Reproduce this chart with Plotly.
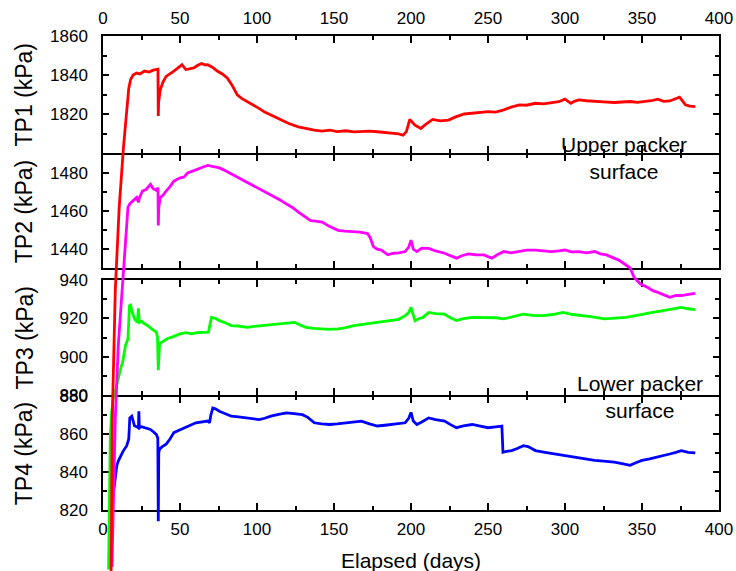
import plotly.graph_objects as go

# ---------------- data (elapsed days, pore pressure in kPa) ----------------
days_tp1 = [5.2, 6.0, 8.0, 10.5, 13.3, 15.4, 16.7, 17.9, 19.5, 21.8, 24, 26.9, 30, 32.5, 34.6,
            35.7, 35.9, 36.1, 37.2, 39, 41, 43.5, 46, 48.5, 51.3, 53.8, 56.5, 59, 61.5, 64.1,
            66, 68, 71, 74.4, 77.5, 80.8, 84, 87.2, 90, 93.6, 97, 101.3, 105, 109, 113, 116.7,
            121, 126.9, 132, 137.2, 142, 147.4, 152, 157.7, 163, 167.9, 173, 178.2, 183, 188.5,
            192, 194.9, 197, 199.2, 202.6, 206.4, 210, 214.1, 219, 224.4, 229, 234.6, 242, 250,
            255, 260.3, 265, 270.5, 275, 280.8, 286, 291, 296, 300, 303.8, 306, 309, 314, 319.2,
            325, 332, 337, 342.3, 347, 352.6, 356, 360.3, 364, 368, 371, 374.4, 376.5, 378.2,
            381, 384.6]
tp1 = [1580, 1663, 1730, 1772, 1803, 1824, 1833, 1837.6, 1840, 1841, 1840.5, 1842, 1841.5, 1842.5,
       1842.8, 1843, 1819, 1826, 1832.4, 1836.5, 1839.3, 1840.5, 1842, 1843.5, 1845.3, 1842.8,
       1843.2, 1843.6, 1845, 1845.9, 1845.2, 1845.3, 1844, 1841.9, 1840.5, 1838.4, 1834.5, 1829.8,
       1828, 1826.4, 1825, 1822.9, 1821, 1819.5, 1818, 1816.9, 1815, 1813.4, 1812.5, 1811.7,
       1811.2, 1811.7, 1811, 1811.4, 1810.8, 1810.9, 1811.2, 1810.9, 1810.5, 1810.3, 1809.8,
       1809.1, 1811, 1817.2, 1814.3, 1812.6, 1815, 1817.2, 1816.5, 1816.9, 1818.5, 1820, 1820.5,
       1821.2, 1821, 1822.1, 1823.5, 1824.7, 1824.5, 1825.5, 1825.2, 1825.9, 1826.3, 1827.6,
       1825.5, 1826.5, 1827.2, 1826.8, 1826.7, 1826.2, 1825.9, 1826.2, 1826.4, 1826, 1826.4,
       1826.8, 1827.6, 1826.5, 1826.7, 1827.5, 1828.6, 1826.5, 1824.7, 1824, 1823.8]

days_tp2 = [5.8, 8, 10, 12.3, 13.4, 14.5, 15.6, 16.2, 17.5, 19.2, 21.8, 23, 23.6, 25.6, 28, 30.8,
            32.5, 34.6, 35.7, 35.9, 36.2, 37.2, 39, 41, 43.5, 46, 50, 52.5, 55, 59, 62.8, 65.5, 68,
            72, 75.6, 78, 80.8, 84, 87.2, 91, 96.2, 100, 103.8, 107.5, 111.5, 115, 119.2, 123,
            126.9, 131, 134.6, 138, 142.3, 147, 152.6, 157, 162.8, 167, 171.8, 173.5, 175.6, 178,
            180.8, 185, 188.5, 192, 196.2, 198.5, 200, 201.5, 203.8, 207, 211.5, 216, 221.8, 226,
            229.5, 233, 237.2, 242, 247.4, 250, 252.6, 256, 260.3, 265, 270.5, 275, 280.8, 286,
            291, 296, 300, 304, 309, 314, 319.2, 323, 327, 331, 334.6, 338, 342.3, 344.9, 349,
            353.8, 357, 360.3, 364, 368, 372, 375.6, 380, 384.6]
tp2 = [1272, 1351, 1390, 1418, 1430, 1447, 1460, 1462, 1464, 1465.5, 1467.3, 1464.7, 1467, 1470.7,
       1471.5, 1474.2, 1472, 1471, 1472.5, 1452.5, 1462, 1467.3, 1468.5, 1470.7, 1473, 1475.9,
       1477.7, 1478, 1480.3, 1481.5, 1482.9, 1483.5, 1484.2, 1483.5, 1482.9, 1482, 1480.8, 1479.5,
       1477.7, 1476.5, 1474.2, 1472.5, 1470.7, 1469, 1467.3, 1466, 1463.8, 1462, 1459.5, 1457,
       1455.1, 1454.8, 1454.3, 1452, 1449.9, 1449.5, 1449.1, 1449, 1448.2, 1446, 1441.3, 1440,
       1439.5, 1437, 1437.8, 1438, 1438.7, 1441, 1444.7, 1440, 1438.7, 1440.5, 1440.4, 1439,
       1437.8, 1436.5, 1435.2, 1436.5, 1437.5, 1437, 1436.9, 1436, 1435.2, 1437, 1438.7, 1438,
       1438.7, 1439.5, 1439.5, 1439, 1438.7, 1439, 1439.5, 1438.5, 1438.7, 1438, 1438.7, 1437.5,
       1436.9, 1435.5, 1434.3, 1432.5, 1430, 1425, 1421.5, 1419.7, 1418, 1417.1, 1416, 1414.5,
       1415.5, 1415.4, 1416, 1416.6]

days_tp3 = [3.6, 4.2, 4.7, 5.5, 6.9, 7.7, 9, 10.3, 11.5, 12.8, 14.6, 16.2, 16.8, 17.2, 17.9, 19,
            20.5, 22.3, 23, 23.6, 25, 26.9, 28.5, 30.8, 32.5, 34.6, 35.4, 35.9, 36.3, 36.7, 38,
            39.7, 42, 44.9, 47.5, 50, 54, 57.7, 61, 65.4, 68.5, 69.5, 70.5, 73, 75.6, 79, 83.3, 88,
            93.6, 98, 103.8, 109, 114.1, 119, 124.4, 128, 131.8, 137, 142.3, 147, 152.6, 157,
            162.8, 170, 178.2, 183, 188.5, 192, 196.2, 198.5, 200, 201.5, 202.6, 205, 207.7, 211.5,
            216, 221.8, 225, 229.5, 234, 239.7, 245, 250, 255, 260.3, 266, 272.8, 279, 285.9, 292,
            298.7, 305, 311.5, 318, 325.6, 332, 339.7, 345, 350, 356, 362.8, 369, 375.6, 380,
            384.6]
tp3 = [789, 820, 857, 870, 880, 881, 886, 890.3, 894, 897.2, 905.9, 909.3, 918, 926.6, 926.9, 923,
       919.7, 917.9, 925.2, 917.9, 918.5, 917.1, 916.5, 915.3, 914, 912.8, 910.2, 892.9, 902,
       906.7, 907.5, 908.4, 909.5, 910.2, 911, 911.9, 912.5, 911.9, 912.5, 912.8, 912.8, 917,
       920.5, 920, 918.8, 917.8, 916.2, 916, 915.3, 915.8, 916.2, 916.5, 917.1, 917.5, 917.9,
       916.5, 915.3, 914.8, 914.5, 914.2, 914.5, 915, 916.2, 917, 917.9, 918.2, 918.8, 919.5,
       921.4, 923, 925.7, 921, 918.8, 919.8, 920.5, 923.1, 922.5, 922.2, 920.5, 918.8, 919.8,
       920.5, 920.3, 920.5, 920.3, 919.7, 921, 922.2, 921.5, 921.4, 922, 923.1, 922, 921.4,
       920.8, 919.7, 920, 920.5, 921.3, 922.2, 923, 923.9, 924.8, 925.7, 925, 924.5]

days_tp4 = [6.3, 7, 7.7, 9, 10, 11.5, 13, 15.4, 16.7, 17, 17.4, 18.7, 19.5, 20.5, 22, 23, 23.3,
            23.6, 25, 26.9, 29, 30.8, 32.5, 34.6, 35.6, 35.9, 36.2, 36.7, 38.5, 41, 43.5, 46, 49,
            52.6, 56, 60.3, 64, 68, 69.2, 70, 71.3, 73, 75.6, 79, 83.3, 88, 93.6, 97, 101.3, 105,
            109, 114, 119.2, 124, 129.5, 133, 137.2, 142, 147.4, 152, 157.7, 163, 167.9, 173,
            178.2, 183, 188.5, 192, 196.2, 198.5, 200, 201.5, 203.8, 207, 211.5, 216, 221.8, 226,
            229.5, 234, 239.7, 245, 250, 255, 259, 259.4, 259.7, 262, 265.4, 269, 273, 276, 280.8,
            287, 293.6, 300, 306.4, 313, 319.2, 325, 332, 337, 342.3, 346, 350, 355, 360.3, 364,
            368, 372, 375.6, 380, 384.6]
tp4 = [826, 830, 834, 843.6, 846, 848.8, 851, 854, 857.4, 862, 868.7, 869.6, 867, 864.4, 864,
       863.5, 872.2, 863.5, 864, 863.5, 863, 862.6, 861.5, 860, 858, 814, 850, 852.2, 853.5,
       854.8, 857.5, 860.9, 862, 863.5, 864.5, 866.1, 866.5, 867, 866.1, 870, 873.9, 873.5,
       872.2, 871, 869.6, 869.2, 868.7, 868.2, 867.8, 868.5, 869.6, 870.5, 871.3, 871, 870.4,
       869, 866.1, 865.5, 865.2, 865.5, 866.1, 866.5, 867, 865.5, 864.4, 864.8, 865.2, 865.5,
       866.1, 868.5, 871.6, 867, 865.2, 866.5, 868.7, 867.8, 867, 865, 863.5, 864.5, 865.2,
       864.3, 863.5, 864, 864.4, 857, 850.5, 851, 851.4, 852.5, 854, 853.5, 851.4, 850.5, 849.6,
       848.8, 847.9, 847, 846.2, 845.8, 845.3, 844.5, 843.6, 845, 846.2, 847, 847.9, 848.8,
       849.6, 850.5, 851.4, 850.5, 850.2]

panel_titles = ["TP1 (kPa)", "TP2 (kPa)", "TP3 (kPa)", "TP4 (kPa)"]
panel_ranges = [[1800, 1860], [1430, 1490], [880, 940], [820, 880]]
panel_ticks = [[1800, 1820, 1840, 1860], [1440, 1460, 1480], [880, 900, 920, 940],
               [820, 840, 860, 880]]
panel_ticktext = [["", "1820", "1840", "1860"], ["1440", "1460", "1480"],
                  ["880", "900", "920", "940"], ["820", "840", "860", "880"]]
x_ticks = [0, 50, 100, 150, 200, 250, 300, 350, 400]

series = [(days_tp1, tp1, "#FF0000"), (days_tp2, tp2, "#FF00FF"),
          (days_tp3, tp3, "#00FF00"), (days_tp4, tp4, "#0000FF")]

# ---------------- layout geometry ----------------
W, H = 736, 571
ML, MR = 103, 17
# top/bottom pixel rows of the panels; touching panels share their border line
rows_px = [(36, 153), (154.5, 268), (280, 395), (396.5, 510)]
FONT = "Liberation Sans, Arial, sans-serif"
CLEAR = "rgba(0,0,0,0)"


def domain(top, bottom):
    return [1 - bottom / H, 1 - top / H]


def full_range(dom, rng):
    """Range of a full-height axis that lines up with a panel axis."""
    d0, d1 = dom
    r0, r1 = rng
    k = (r1 - r0) / (d1 - d0)
    return [r0 - d0 * k, r1 + (1 - d1) * k]


def axis_style(**kw):
    base = dict(showline=True, linecolor="black", linewidth=1.5, ticks="inside",
                tickcolor="black", tickwidth=1.5, showgrid=False, zeroline=False,
                mirror="allticks", automargin=False,
                tickfont=dict(family=FONT, size=17, color="black"))
    base.update(kw)
    return base


fig = go.Figure()
layout = dict(width=W, height=H, margin=dict(l=ML, r=MR, t=0, b=0, autoexpand=False),
              template="none", paper_bgcolor="white", plot_bgcolor=CLEAR,
              showlegend=False, font=dict(family=FONT, color="black"))

# x axes: x = bottom of TP4, x2 = top of TP1, x3 / x4 frame TP2 / TP3
x_of_panel = ["x2", "x3", "x4", "x"]
y_of_panel = ["y", "y2", "y3", "y4"]
x_anchor = {"xaxis": "y4", "xaxis2": "y", "xaxis3": "y2", "xaxis4": "y3"}
for name, anc in x_anchor.items():
    ax = axis_style(range=[0, 400], domain=[0, 1], anchor=anc, tickmode="array",
                    tickvals=x_ticks, ticklen=7, ticklabelstandoff=3,
                    minor=dict(tickmode="linear", tick0=0, dtick=25, ticks="inside",
                               ticklen=4, tickcolor="black", tickwidth=1.5, showgrid=False))
    if name == "xaxis2":
        ax.update(side="top")
    elif name != "xaxis":
        ax.update(showticklabels=False)
    layout[name] = ax

# panel y axes (each panel frame is its own subplot)
for i in range(4):
    name = "yaxis" if i == 0 else f"yaxis{i + 1}"
    layout[name] = axis_style(range=panel_ranges[i], domain=domain(*rows_px[i]),
                              anchor=x_of_panel[i], tickmode="array",
                              tickvals=panel_ticks[i], ticktext=panel_ticktext[i],
                              ticklen=6, ticklabelstandoff=10,
                              minor=dict(tickmode="linear", tick0=0, dtick=10,
                                         ticks="inside", ticklen=4, tickcolor="black",
                                         tickwidth=1.5, showgrid=False))
    # an empty trace registers the panel subplot so its frame and ticks are drawn
    fig.add_trace(go.Scatter(x=[], y=[], xaxis=x_of_panel[i], yaxis=y_of_panel[i],
                             mode="lines", hoverinfo="skip"))

# hidden full-height axes so the curves may run past their own panel
layout["xaxis5"] = dict(range=[0, 400], domain=[0, 1], anchor="y5", visible=False,
                        showgrid=False, zeroline=False, automargin=False)
order = [3, 2, 1, 0]
for k, i in enumerate(order):
    ax_id = 5 + k
    dom = domain(*rows_px[i])
    layout[f"yaxis{ax_id}"] = dict(domain=[0, 1], anchor="x5",
                                   range=full_range(dom, panel_ranges[i]), visible=False,
                                   showgrid=False, zeroline=False, automargin=False)
    d, v, c = series[i]
    fig.add_trace(go.Scatter(x=d, y=v, mode="lines", xaxis="x5", yaxis=f"y{ax_id}",
                             line=dict(color=c, width=2.8), hoverinfo="skip"))

annotations = []
for i, t in enumerate(panel_titles):
    top, bot = rows_px[i]
    annotations.append(dict(text=t, textangle=-90, xref="paper", yref="paper",
                            x=(24 - ML) / (W - ML - MR), y=1 - (top + bot) / 2 / H,
                            xanchor="center", yanchor="middle", showarrow=False,
                            font=dict(family=FONT, size=23, color="black")))
annotations.append(dict(text="Elapsed (days)", xref="paper", yref="paper", x=0.5,
                        y=0, yshift=-3, xanchor="center", yanchor="bottom",
                        showarrow=False, font=dict(family=FONT, size=21, color="black")))
annotations.append(dict(text="Upper packer<br>surface", xref="paper", yref="paper",
                        x=(624 - ML) / (W - ML - MR), y=1 - 157.5 / H, xanchor="center",
                        yanchor="middle", showarrow=False, align="center",
                        font=dict(family=FONT, size=21, color="black")))
annotations.append(dict(text="Lower packer<br>surface", xref="paper", yref="paper",
                        x=(640 - ML) / (W - ML - MR), y=1 - 396.5 / H, xanchor="center",
                        yanchor="middle", showarrow=False, align="center",
                        font=dict(family=FONT, size=21, color="black")))
layout["annotations"] = annotations

fig.update_layout(**layout)
fig.write_html("out.html")
